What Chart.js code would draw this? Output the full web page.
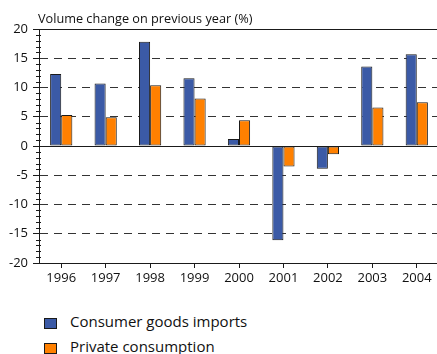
<!DOCTYPE html>
<html>
<head>
<meta charset="utf-8">
<script src="https://cdn.jsdelivr.net/npm/chart.js@4.4.0/dist/chart.umd.min.js"></script>
<style>
  body { margin: 0; background: #fff; font-family: "Open Sans", sans-serif; color: #111; }
  #wrap { position: relative; width: 437px; height: 354px; overflow: hidden; }
  #chart { position: absolute; left: 0; top: 0; }
  #title { position: absolute; left: 38px; top: 9px; font-size: 12.7px; white-space: nowrap; }
  .leg { position: absolute; left: 44px; font-size: 15px; white-space: nowrap; }
  .leg span.box { position: absolute; left: 0; top: 6px; width: 11px; height: 9px; border: 1px solid #1a1a1a; }
  .leg span.txt { position: absolute; left: 26px; top: -1px; }
</style>
</head>
<body>
<div id="wrap">
  <canvas id="chart" width="439" height="290"></canvas>
  <div id="title">Volume change on previous year (%)</div>
  <div id="legend"></div>
</div>
<script>
// data
const years = ['1996', '1997', '1998', '1999', '2000', '2001', '2002', '2003', '2004'];
const consumerImports = [12.3, 10.7, 17.8, 11.6, 1.2, -16.1, -3.9, 13.6, 15.7];
const privateConsumption = [5.3, 4.9, 10.4, 8.1, 4.4, -3.5, -1.4, 6.6, 7.5];
const seriesNames = ['Consumer goods imports', 'Private consumption'];
const seriesColors = ['#3b5aa6', '#ff8000'];

// solid top / zero lines and the small minor ticks on the y axis
const extras = {
  id: 'extras',
  afterDraw(chart) {
    const { ctx, chartArea } = chart;
    const y = chart.scales.y;
    ctx.save();
    ctx.strokeStyle = '#1a1a1a';
    ctx.lineWidth = 1;
    [20, 0].forEach(v => {
      const py = Math.round(y.getPixelForValue(v)) + 0.5;
      ctx.beginPath();
      ctx.moveTo(chartArea.left, py);
      ctx.lineTo(chartArea.right, py);
      ctx.stroke();
    });
    for (let v = -20; v <= 20; v++) {
      if (v % 5 === 0) continue;
      const py = Math.round(y.getPixelForValue(v)) + 0.5;
      ctx.beginPath();
      ctx.moveTo(chartArea.left - 3, py);
      ctx.lineTo(chartArea.left + 2, py);
      ctx.stroke();
    }
    ctx.restore();
  }
};

new Chart(document.getElementById('chart'), {
  type: 'bar',
  data: {
    labels: years,
    datasets: [
      { label: seriesNames[0], data: consumerImports, backgroundColor: seriesColors[0] },
      { label: seriesNames[1], data: privateConsumption, backgroundColor: seriesColors[1] }
    ]
  },
  options: {
    responsive: false,
    animation: false,
    layout: { padding: { top: 29, right: 0, bottom: 0, left: 0 } },
    datasets: {
      bar: { categoryPercentage: 0.5, barPercentage: 1, borderWidth: 1, borderColor: '#1a1a1a', borderSkipped: false }
    },
    plugins: {
      legend: { display: false },
      tooltip: { enabled: false }
    },
    scales: {
      x: {
        afterFit: s => { s.height = 27; },
        grid: { offset: false, drawOnChartArea: false, tickLength: 5, tickColor: '#1a1a1a' },
        border: { color: '#1a1a1a', width: 1 },
        ticks: { color: '#111', font: { family: 'Open Sans', size: 13 }, padding: 2 }
      },
      y: {
        min: -20,
        max: 20,
        afterFit: s => { s.width = 39; },
        grid: {
          color: ctx => (ctx.tick && (ctx.tick.value === 20 || ctx.tick.value === -20 || ctx.tick.value === 0)) ? 'rgba(0,0,0,0)' : '#333',
          tickLength: 6,
          tickColor: '#1a1a1a'
        },
        border: { color: '#1a1a1a', width: 1, dash: [8, 6] },
        ticks: { stepSize: 5, color: '#111', font: { family: 'Open Sans', size: 13 }, padding: 5 }
      }
    }
  },
  plugins: [extras]
});

// legend as real text below the chart
const legendEl = document.getElementById('legend');
seriesNames.forEach((name, i) => {
  const row = document.createElement('div');
  row.className = 'leg';
  row.style.top = (312 + i * 25) + 'px';
  row.innerHTML = `<span class="box" style="background:${seriesColors[i]}"></span><span class="txt">${name}</span>`;
  legendEl.appendChild(row);
});
</script>
</body>
</html>
